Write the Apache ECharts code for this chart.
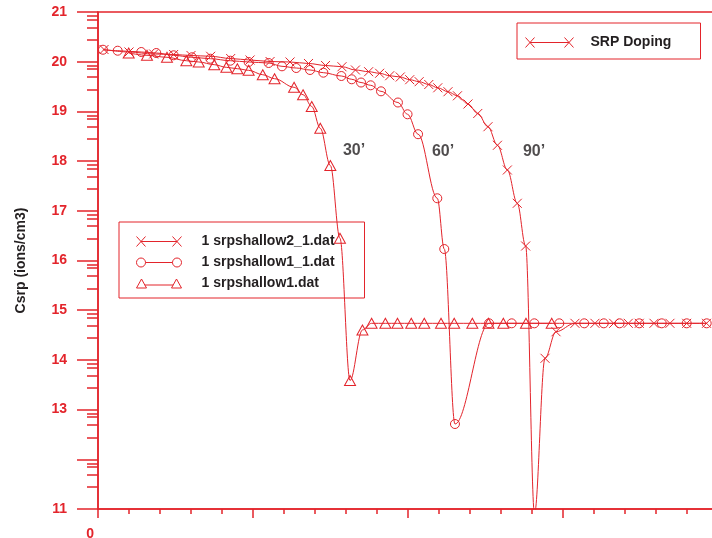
<!DOCTYPE html>
<html>
<head>
<meta charset="utf-8">
<script src="https://cdn.jsdelivr.net/npm/echarts@6/dist/echarts.min.js"></script>
<style>
  html, body { margin: 0; padding: 0; background: #ffffff; }
  #chart { width: 712px; height: 538px; }
</style>
</head>
<body>
<div id="chart"></div>
<script>
// SRP profiles: depth (axis units, one major tick = 1) vs log10 of Csrp (ions/cm3)

// 30' anneal — "1 srpshallow1.dat"
const depth30 = [0.198, 0.316, 0.445, 0.570, 0.650, 0.750, 0.828, 0.899, 0.972, 1.063,
                 1.139, 1.265, 1.323, 1.379, 1.434, 1.499, 1.561, 1.626, 1.706, 1.765,
                 1.854, 1.932, 2.021, 2.105, 2.213, 2.298, 2.415, 2.519, 2.615, 2.761, 2.927];
const csrp30  = [20.175, 20.129, 20.089, 20.020, 19.994, 19.940, 19.887, 19.859, 19.827, 19.738,
                 19.658, 19.485, 19.336, 19.099, 18.660, 17.911, 16.447, 13.586, 14.602, 14.736,
                 14.736, 14.736, 14.736, 14.736, 14.736, 14.736, 14.736, 14.736, 14.736, 14.736, 14.736];

// 60' anneal — "1 srpshallow1_1.dat"
const depth60 = [0.032, 0.127, 0.279, 0.376, 0.488, 0.606, 0.725, 0.854, 0.972, 1.101,
                 1.187, 1.279, 1.368, 1.454, 1.570, 1.637, 1.697, 1.759, 1.826, 1.935,
                 1.997, 2.065, 2.189, 2.234, 2.303, 2.523, 2.669, 2.815, 2.976, 3.137,
                 3.263, 3.365, 3.492, 3.637, 3.798, 3.927];
const csrp60  = [20.241, 20.221, 20.195, 20.175, 20.129, 20.089, 20.060, 20.020, 19.994, 19.974,
                 19.907, 19.873, 19.833, 19.779, 19.712, 19.646, 19.581, 19.525, 19.404, 19.179,
                 18.942, 18.541, 17.252, 16.231, 12.710, 14.736, 14.736, 14.736, 14.736, 14.736,
                 14.736, 14.736, 14.736, 14.736, 14.736, 14.736];

// 90' anneal — "1 srpshallow2_1.dat"
const depth90 = [0.039, 0.200, 0.359, 0.488, 0.600, 0.727, 0.856, 0.981, 1.110, 1.239,
                 1.358, 1.468, 1.574, 1.661, 1.746, 1.817, 1.882, 1.950, 2.011, 2.072,
                 2.134, 2.192, 2.258, 2.319, 2.387, 2.450, 2.516, 2.577, 2.641, 2.705,
                 2.759, 2.816, 2.884, 2.955, 3.077, 3.206, 3.327, 3.421, 3.492, 3.587,
                 3.690, 3.798, 3.926];
const csrp90  = [20.245, 20.195, 20.155, 20.145, 20.125, 20.109, 20.064, 20.034, 20.004, 19.994,
                 19.964, 19.924, 19.899, 19.833, 19.799, 19.767, 19.718, 19.692, 19.638, 19.598,
                 19.541, 19.475, 19.396, 19.314, 19.149, 18.958, 18.692, 18.318, 17.821, 17.151,
                 16.292, 10.900, 14.032, 14.567, 14.736, 14.736, 14.736, 14.736, 14.736, 14.736,
                 14.736, 14.736, 14.736];

// Anneal-time annotations placed in data coordinates
const noteText  = ['30\u2019', '60\u2019', '90\u2019'];
const noteDepth = [1.652, 2.226, 2.813];
const noteCsrp  = [18.22, 18.20, 18.20];

// Axis ticks
const yMajorTicks = [11, 12, 13, 14, 15, 16, 17, 18, 19, 20, 21];
const yLabelSkip = [12];
const yMinorFractions = [0.44, 0.69, 0.85, 0.92];
const xTickLabels = [0];

const RED = '#e3242b';
const INK = '#231f20';
const FONT = '"Liberation Sans", Arial, Helvetica, sans-serif';

const zip = (xs, ys) => xs.map((x, i) => [x, ys[i]]);

const yMinorTicks = [];
yMajorTicks.slice(0, -1).forEach(v => yMinorFractions.forEach(f => yMinorTicks.push(+(v + f).toFixed(2))));

const ICON_X = 'path://M0,0L9,10M0,10L9,0M4.5,5L40.5,5M36,0L45,10M36,10L45,0';
const ICON_X_LONG = 'path://M0,0L9,10M0,10L9,0M4.5,5L43.5,5M39,0L48,10M39,10L48,0';
const ICON_O = 'path://M0,5A4.5,4.5,0,1,1,9,5A4.5,4.5,0,1,1,0,5ZM9,5L36,5M36,5A4.5,4.5,0,1,1,45,5A4.5,4.5,0,1,1,36,5Z';
const ICON_T = 'path://M5,0L10,9L0,9ZM8.3,6L36.7,6M40,0L45,9L35,9Z';

const markerStyle = { color: 'transparent', borderColor: RED, borderWidth: 1 };
const lineStyle = { color: RED, width: 1 };

function profileSeries(name, data, symbol, symbolSize) {
  return {
    name, type: 'line', data, symbol, symbolSize,
    smooth: 0.35, smoothMonotone: 'x',
    clip: true, silent: true,
    itemStyle: markerStyle, lineStyle,
    emphasis: { disabled: true }
  };
}

const legendText = (w, padLeft) => ({
  fontFamily: FONT, fontWeight: 'bold', fontSize: 14, color: INK,
  lineHeight: 21, width: w, padding: [0, 0, 0, padLeft]
});

const chart = echarts.init(document.getElementById('chart'), null, { renderer: 'canvas' });

chart.setOption({
  animation: false,
  backgroundColor: '#ffffff',
  grid: {
    left: 98, top: 12, right: -6, bottom: 29,
    outerBoundsMode: 'none', containLabel: false,
    show: true, borderColor: RED, borderWidth: 1.5, backgroundColor: 'transparent'
  },
  xAxis: {
    type: 'value', min: 0, max: 4, interval: 1,
    axisLine: { lineStyle: { color: RED, width: 1.5 } },
    axisTick: { length: 9, lineStyle: { color: RED, width: 1.5 } },
    minorTick: { show: true, splitNumber: 5, length: 5, lineStyle: { color: RED, width: 1.5 } },
    splitLine: { show: false },
    axisLabel: {
      margin: 18, color: RED, fontFamily: FONT, fontWeight: 'bold', fontSize: 14,
      align: 'right', padding: [0, 4, 0, 0],
      formatter: v => (xTickLabels.includes(v) ? String(v) : '')
    }
  },
  yAxis: [
    {
      type: 'value', min: 11, max: 21, interval: 1, position: 'left',
      name: 'Csrp (ions/cm3)', nameLocation: 'middle', nameGap: 70,
      nameTextStyle: { fontFamily: FONT, fontWeight: 'bold', fontSize: 14, color: INK },
      axisLine: { lineStyle: { color: RED, width: 1.5 } },
      axisTick: { length: 21, lineStyle: { color: RED, width: 1.5 } },
      splitLine: { show: false },
      axisLabel: {
        margin: 31, color: RED, fontFamily: FONT, fontWeight: 'bold', fontSize: 14,
        formatter: v => (yLabelSkip.includes(v) ? '' : String(v))
      }
    },
    {
      type: 'value', min: 11, max: 21, position: 'left',
      axisLine: { show: false },
      axisLabel: { show: false },
      splitLine: { show: false },
      axisTick: { show: true, length: 11, customValues: yMinorTicks, lineStyle: { color: RED, width: 1.5 } }
    }
  ],
  legend: [
    {
      orient: 'vertical', left: 119, top: 222,
      padding: [9, 28, 4, 17], itemGap: 0,
      itemWidth: 45, itemHeight: 10,
      borderColor: RED, borderWidth: 1, selectedMode: false,
      itemStyle: { color: 'transparent', borderColor: RED, borderWidth: 1 },
      textStyle: legendText(135, 15),
      data: [
        { name: '1 srpshallow2_1.dat', icon: ICON_X },
        { name: '1 srpshallow1_1.dat', icon: ICON_O },
        { name: '1 srpshallow1.dat', icon: ICON_T }
      ]
    },
    {
      orient: 'vertical', left: 517, top: 23,
      padding: [9, 29, 6, 8], itemGap: 0,
      itemWidth: 48, itemHeight: 10,
      borderColor: RED, borderWidth: 1, selectedMode: false,
      itemStyle: { color: 'transparent', borderColor: RED, borderWidth: 1 },
      textStyle: legendText(81, 12),
      data: [{ name: 'SRP Doping', icon: ICON_X_LONG }]
    }
  ],
  series: [
    profileSeries('1 srpshallow1.dat', zip(depth30, csrp30), 'triangle', [11, 10]),
    profileSeries('1 srpshallow1_1.dat', zip(depth60, csrp60), 'circle', 9),
    profileSeries('1 srpshallow2_1.dat', zip(depth90, csrp90), 'path://M0,0L10,10M0,10L10,0', 9),
    { name: 'SRP Doping', type: 'line', data: [], lineStyle, itemStyle: markerStyle },
    {
      name: 'notes', type: 'scatter', silent: true, symbolSize: 1,
      itemStyle: { color: 'transparent' },
      data: noteText.map((t, i) => ({ value: [noteDepth[i], noteCsrp[i]], name: t })),
      label: {
        show: true, position: 'inside', formatter: p => p.name,
        fontFamily: FONT, fontWeight: 'bold', fontSize: 16, color: INK
      }
    }
  ]
});
</script>
</body>
</html>
